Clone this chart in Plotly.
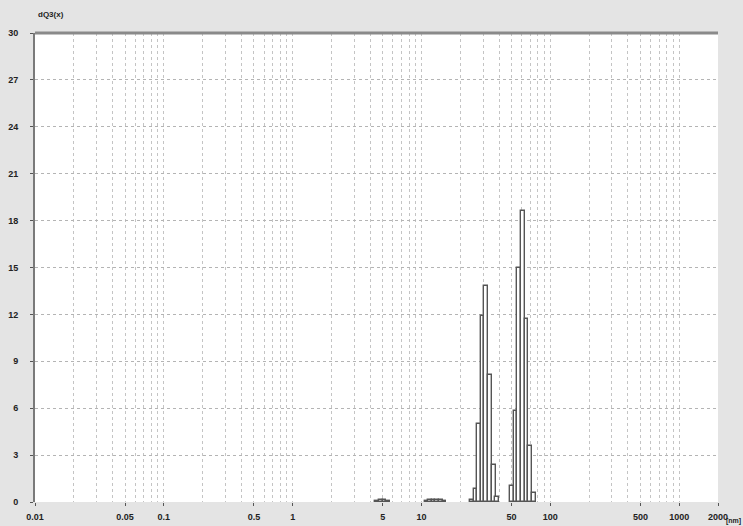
import numpy as np
import plotly.graph_objects as go

# Particle size classes (bin centres, nm) and differential distribution dQ3(x)
diameter_nm = [4.52, 4.84, 5.17, 5.52,
               10.9, 11.6, 12.4, 13.2, 14.1, 15.1,
               24.5, 26.2, 27.9, 29.8, 31.8, 34.0, 36.3, 38.7,
               50.3, 53.7, 57.3, 61.2, 65.3, 69.7, 74.4]
dq3 = [0.05, 0.1, 0.1, 0.05,
       0.05, 0.1, 0.15, 0.15, 0.1, 0.05,
       0.1, 0.85, 5.0, 11.9, 13.8, 8.1, 2.35, 0.3,
       1.0, 5.8, 15.0, 18.6, 11.7, 3.6, 0.6]

# Axis ticks
x_tick_values = [0.01, 0.05, 0.1, 0.5, 1, 5, 10, 50, 100, 500, 1000, 2000]
x_tick_labels = ["0.01", "0.05", "0.1", "0.5", "1", "5", "10", "50", "100", "500", "1000", "2000"]
y_tick_values = [0, 3, 6, 9, 12, 15, 18, 21, 24, 27, 30]

# class width on the log10 scale
bin_width_log = 0.0284

x_min, x_max = 0.01, 2000
grid_values = [m * 10.0 ** k for k in range(-2, 4) for m in range(1, 10)
               if x_min <= m * 10.0 ** k <= x_max]

font_family = "Liberation Sans Narrow, Liberation Sans, Arial, sans-serif"
tick_font = dict(family=font_family, size=9, color="#222222", weight="bold")

fig = go.Figure()
fig.add_trace(go.Bar(
    x=np.log10(diameter_nm),
    y=dq3,
    width=bin_width_log,
    marker=dict(color="white", line=dict(color="#555555", width=1.4)),
    showlegend=False,
    hoverinfo="skip",
))

fig.update_layout(
    width=743,
    height=526,
    margin=dict(l=35, r=25, t=33, b=24),
    paper_bgcolor="#e4e4e4",
    plot_bgcolor="white",
    bargap=0,
    font=dict(family=font_family, size=9, color="#222222"),
    xaxis=dict(
        range=[np.log10(x_min), np.log10(x_max)],
        automargin=False,
        tickmode="array",
        tickvals=np.log10(x_tick_values),
        ticktext=x_tick_labels,
        ticks="outside",
        ticklen=3,
        tickcolor="#555555",
        ticklabelstandoff=3,
        showgrid=True,
        gridcolor="#c4c4c4",
        griddash="dot",
        gridwidth=1,
        minor=dict(
            tickmode="array",
            tickvals=np.log10(grid_values),
            showgrid=True,
            gridcolor="#c4c4c4",
            griddash="dot",
            gridwidth=1,
        ),
        zeroline=False,
        showline=False,
        tickfont=tick_font,
    ),
    yaxis=dict(
        range=[0, 30],
        automargin=False,
        tickmode="array",
        tickvals=y_tick_values,
        ticks="outside",
        ticklen=3,
        tickcolor="#555555",
        ticklabelstandoff=10,
        showgrid=True,
        gridcolor="#b4b4b4",
        griddash="dot",
        gridwidth=1,
        zeroline=False,
        showline=True,
        linecolor="#7a7a7a",
        linewidth=2,
        tickfont=tick_font,
    ),
    shapes=[
        dict(type="line", xref="paper", yref="paper", x0=0, x1=1, y0=1, y1=1,
             line=dict(color="#8a8a8a", width=3)),
    ],
    annotations=[
        dict(text="dQ3(x)", xref="paper", yref="paper", x=0.002, y=1.04,
             xanchor="left", yanchor="middle", showarrow=False,
             font=dict(family=font_family, size=8, color="#222222", weight="bold")),
        dict(text="[nm]", xref="paper", yref="paper", x=1.0366, y=-0.041,
             xanchor="right", yanchor="middle", showarrow=False,
             font=dict(family=font_family, size=7, color="#222222", weight="bold")),
    ],
)

fig.write_html("out.html")
